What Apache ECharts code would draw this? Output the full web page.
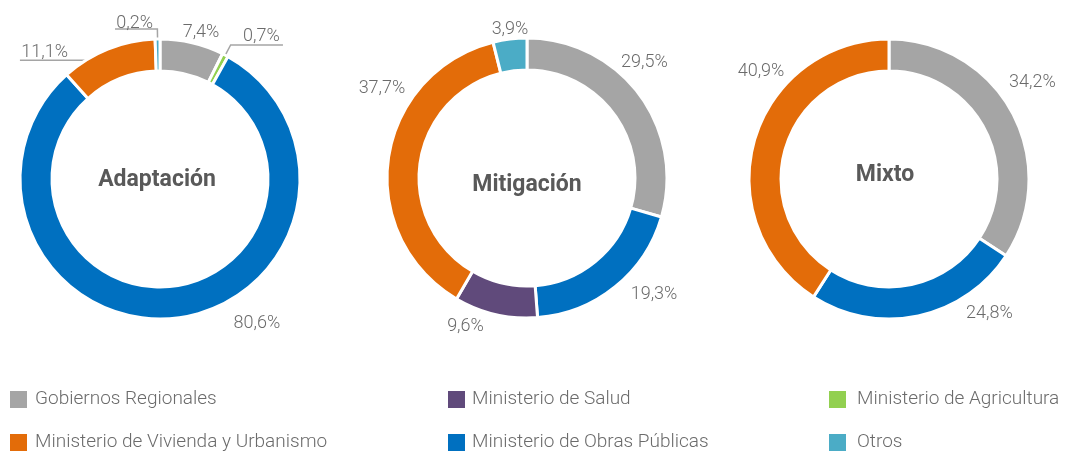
<!DOCTYPE html>
<html>
<head>
<meta charset="utf-8">
<script src="https://cdn.jsdelivr.net/npm/echarts@6/dist/echarts.min.js"></script>
<style>html,body{margin:0;padding:0;background:#fff}#c{width:1070px;height:452px}</style>
</head>
<body>
<div id="c"></div>
<script>
// ---- data ----
const chartTitles = ['Adaptación', 'Mitigación', 'Mixto'];
const adaptacionNames = ['Gobiernos Regionales', 'Ministerio de Agricultura', 'Ministerio de Obras Públicas', 'Ministerio de Vivienda y Urbanismo', 'Otros'];
const adaptacionValues = [7.4, 0.7, 80.6, 11.1, 0.2];
const mitigacionNames = ['Gobiernos Regionales', 'Ministerio de Obras Públicas', 'Ministerio de Salud', 'Ministerio de Vivienda y Urbanismo', 'Otros'];
const mitigacionValues = [29.5, 19.3, 9.6, 37.7, 3.9];
const mixtoNames = ['Gobiernos Regionales', 'Ministerio de Obras Públicas', 'Ministerio de Vivienda y Urbanismo'];
const mixtoValues = [34.2, 24.8, 40.9];
const legendColumns = [
  ['Gobiernos Regionales', 'Ministerio de Vivienda y Urbanismo'],
  ['Ministerio de Salud', 'Ministerio de Obras Públicas'],
  ['Ministerio de Agricultura', 'Otros']
];

// ---- styles / layout ----
const colors = {
  'Gobiernos Regionales': '#A5A5A5',
  'Ministerio de Salud': '#604A7B',
  'Ministerio de Agricultura': '#92D050',
  'Ministerio de Vivienda y Urbanismo': '#E36C09',
  'Ministerio de Obras Públicas': '#0070C0',
  'Otros': '#4BACC6'
};
const pieCenters = [[160, 179], [527, 178], [889, 179]];
const titlePos = [[157, 180], [527, 185], [885, 175]];
const legendLeft = [8, 446, 827];
const legendTop = [389, 432];
const legendTextPad = [2, 1, 5];
// label nudges (dx, dy) from default outside anchor; null = use guide line layout
const labelNudge = [
  [[8.9, -10.7], null, [81.4, 4.9], null, null],
  [[5.5, -31.9], [38.8, 7.3], [-30.1, 11.6], [-6.4, -69.3], [0.1, -10]],
  [[20.3, -29.5], [71.2, -2.9], [6.4, -67.7]]
];
// guide line styles for small slices (series 0); sp = spacer height lifting text above line
const guideStyle = {
  1: {length: 11.5, length2: 52.3, dist: -40, sp: 16},
  3: {length: -12, length2: 92.3, dist: -48, sp: 16},
  4: {length: 10, length2: 42.4, dist: -38, sp: 12}
};

const seriesSets = [
  [adaptacionNames, adaptacionValues],
  [mitigacionNames, mitigacionValues],
  [mixtoNames, mixtoValues]
];

const labelFont = {fontFamily: 'Roboto', fontWeight: 300, fontSize: 18, color: '#6b6b6b'};
const fmt = v => v.toFixed(1).replace('.', ',') + '%';

const series = seriesSets.map(([names, values], si) => ({
  type: 'pie',
  center: pieCenters[si],
  radius: [108, 140],
  startAngle: 90,
  clockwise: true,
  minAngle: si === 0 ? 2 : 0,
  avoidLabelOverlap: false,
  animation: false,
  emphasis: {disabled: true},
  itemStyle: {borderColor: '#ffffff', borderWidth: 3},
  label: Object.assign({
    show: true,
    position: 'outside',
    distanceToLabelLine: 0,
    formatter: p => fmt(p.value)
  }, labelFont),
  labelLine: {
    show: false, length: 0, length2: 0, minTurnAngle: 0, maxSurfaceAngle: 180,
    lineStyle: {color: '#A5A5A5', width: 1.5}
  },
  labelLayout: function (params) {
    const n = labelNudge[si][params.dataIndex];
    if (!n) return {};
    return {dx: n[0], dy: n[1], align: 'center', verticalAlign: 'middle'};
  },
  data: names.map((name, i) => {
    const item = {name: name, value: values[i], itemStyle: {color: colors[name]}};
    const g = si === 0 ? guideStyle[i] : null;
    if (g) {
      item.labelLine = {show: true, length: g.length, length2: g.length2, minTurnAngle: 0, maxSurfaceAngle: 180};
      item.label = {
        distanceToLabelLine: g.dist,
        formatter: p => '{t|' + fmt(p.value) + '}\n{s| }',
        rich: {
          t: Object.assign({lineHeight: 18}, labelFont),
          s: {height: g.sp, lineHeight: g.sp, fontSize: 1}
        }
      };
    }
    return item;
  })
}));

const legends = [];
legendColumns.forEach((col, ci) => {
  col.forEach((name, ri) => {
    legends.push({
      data: [name],
      left: legendLeft[ci],
      top: legendTop[ri],
      padding: 0,
      orient: 'horizontal',
      icon: 'rect',
      itemWidth: 19,
      itemHeight: 19,
      selectedMode: false,
      textStyle: {fontFamily: 'Roboto', fontWeight: 300, fontSize: 19, color: '#6b6b6b', padding: [0, 0, 0, legendTextPad[ci]]}
    });
  });
});

const option = {
  backgroundColor: '#ffffff',
  animation: false,
  legend: legends,
  graphic: chartTitles.map((t, i) => ({
    type: 'text',
    x: titlePos[i][0],
    y: titlePos[i][1],
    silent: true,
    style: {text: t, align: 'center', verticalAlign: 'middle', fontFamily: 'Roboto', fontWeight: 'bold', fontSize: 23, fill: '#595959'}
  })),
  series: series
};

const chart = echarts.init(document.getElementById('c'), null, {renderer: 'canvas'});
chart.setOption(option);
</script>
</body>
</html>
